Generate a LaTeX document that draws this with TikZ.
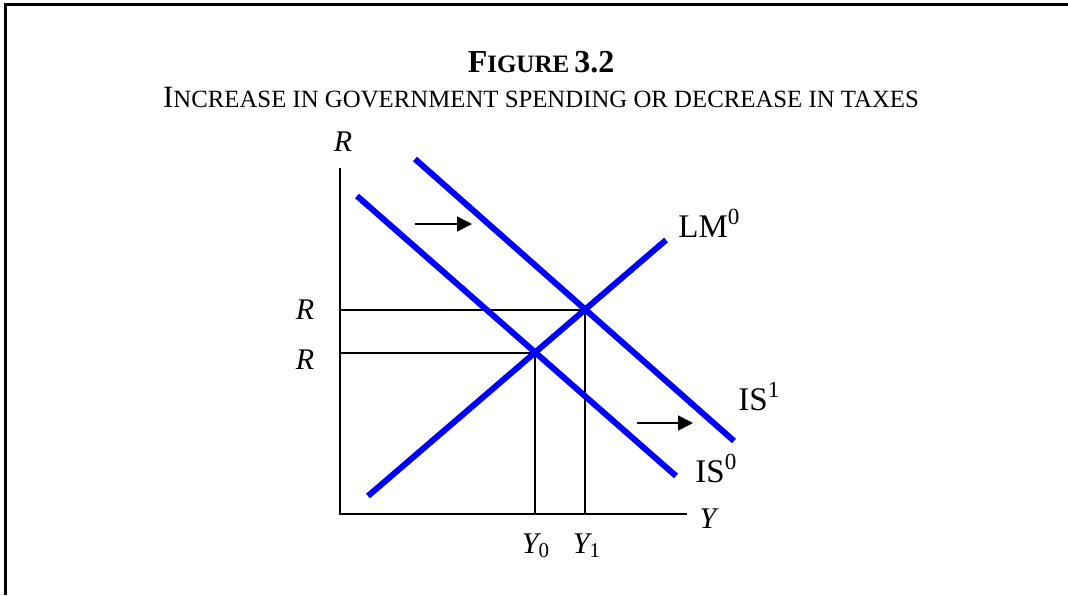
\documentclass[tikz,border=0pt]{standalone}
\usepackage{fontspec}
\setmainfont{Liberation Serif}
\usetikzlibrary{arrows.meta}

\tikzset{
	curve/.style={blue, line width=3pt},
	guide/.style={line width=0.8pt},
	shiftarrow/.style={-{Triangle[length=7.5pt, width=7.5pt]}, line width=0.8pt},
	lbl/.style={font=\fontsize{15}{18}\selectfont\itshape, inner sep=0pt},
	curvelbl/.style={font=\fontsize{16.5}{19}\selectfont, inner sep=0pt, anchor=base west}
}
\newcommand{\bigsmall}[2]{{\fontsize{16}{19}\selectfont #1}{\fontsize{12.5}{15}\selectfont #2}}

\begin{document}
\begin{tikzpicture}[x=0.5pt, y=-0.5pt]
	\useasboundingbox (0, 0) rectangle (1068, 595);
	\draw [line width=1.5pt] (5, 595) -- (5, 4) -- (1068, 4);
	\node (title) [font=\bfseries, inner sep=0pt, anchor=base] at (541, 72) {\bigsmall{F}{IGURE} {\fontsize{16}{19}\selectfont 3.2}};
	\node (subtitle) [inner sep=0pt, anchor=base] at (541, 107) {{\fontsize{15.5}{18}\selectfont I}{\fontsize{12.4}{15}\selectfont NCREASE IN GOVERNMENT SPENDING OR DECREASE IN TAXES}};

	\coordinate (O) at (340, 514);
	\coordinate (Rtop) at (340, 168);
	\coordinate (Yend) at (687, 514);
	\coordinate (E0) at (535, 353);
	\coordinate (E1) at (585, 310);
	\coordinate (R0) at (340, 353);
	\coordinate (R1) at (340, 310);
	\coordinate (Y0) at (535, 514);
	\coordinate (Y1) at (585, 514);

	\draw [line width=1.4pt] (Rtop) -- (O) -- (Yend);
	\draw [guide] (R1) -- (E1) -- (Y1);
	\draw [guide] (R0) -- (E0) -- (Y0);

	\draw [curve] (368, 496) coordinate (LMa) -- (666, 240) coordinate (LMb);
	\draw [curve] (357, 196) coordinate (ISa) -- (676, 476) coordinate (ISb);
	\draw [curve] (415, 159) coordinate (ISc) -- (734, 441) coordinate (ISd);

	\coordinate (a1) at (415, 224);
	\coordinate (b1) at (472, 224);
	\coordinate (a2) at (637, 423);
	\coordinate (b2) at (693, 423);
	\draw [shiftarrow] (a1) -- (b1);
	\draw [shiftarrow] (a2) -- (b2);

	\node (Rlab) [lbl, anchor=base] at (343, 151) {R};
	\node (Ylab) [lbl] at (708, 519) {Y};
	\node (Rone) [lbl] at (305, 310) {R};
	\node (Rzero) [lbl] at (305, 360) {R};
	\node (Yzero) [lbl] at (536, 546) {Y\textsubscript{\upshape 0}};
	\node (Yone) [lbl] at (587, 546) {Y\textsubscript{\upshape 1}};

	\node (LM) [curvelbl] at (678, 237) {LM\textsuperscript{0}};
	\node (IS1) [curvelbl] at (738, 410) {IS\textsuperscript{1}};
	\node (IS0) [curvelbl] at (695, 482) {IS\textsuperscript{0}};
\end{tikzpicture}
\end{document}
